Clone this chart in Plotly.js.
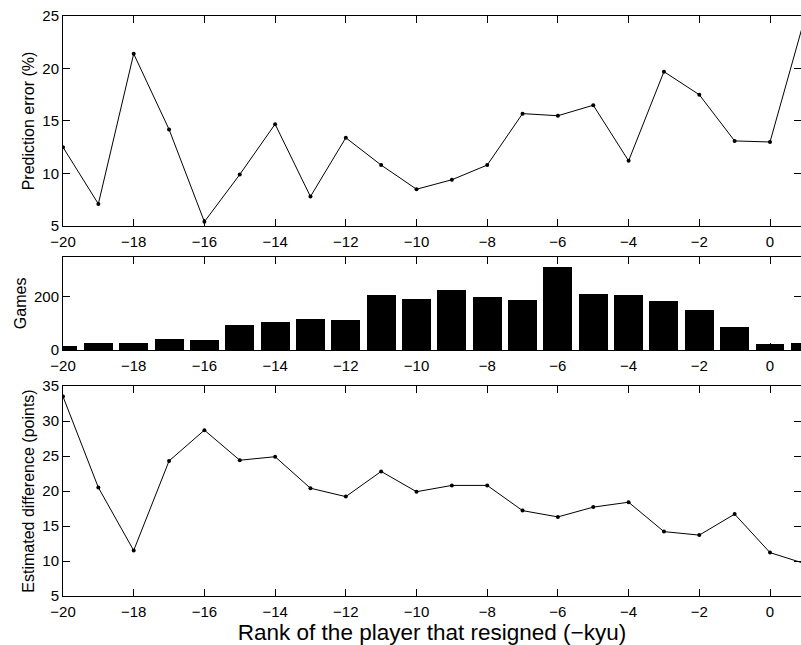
<!DOCTYPE html>
<html>
<head>
<meta charset="utf-8">
<script src="https://cdn.plot.ly/plotly-3.0.1.min.js"></script>
<style>html,body{margin:0;padding:0;background:#fff;}#chart{width:801px;height:645px;}</style>
</head>
<body>
<div id="chart"></div>
<script>
// Rank of the player that resigned (-kyu)
const ranks = [-20,-19,-18,-17,-16,-15,-14,-13,-12,-11,-10,-9,-8,-7,-6,-5,-4,-3,-2,-1,0,1];
// Prediction error (%)
const predictionError = [12.5,7.1,21.4,14.2,5.4,9.9,14.7,7.8,13.4,10.8,8.5,9.4,10.8,15.7,15.5,16.5,11.2,19.7,17.5,13.1,13.0,25.0];
// Number of games
const games = [16,28,28,43,38,92,104,116,113,206,191,225,198,187,313,209,206,184,149,86,24,28];
// Estimated difference (points)
const estDiff = [33.5,20.5,11.5,24.3,28.7,24.4,24.9,20.4,19.2,22.8,19.9,20.8,20.8,17.2,16.3,17.7,18.4,14.2,13.7,16.7,11.2,9.6];

const xTickVals = [-20,-18,-16,-14,-12,-10,-8,-6,-4,-2,0];
const topTicks = [5,10,15,20,25];
const midTicks = [0,200];
const botTicks = [5,10,15,20,25,30,35];

const FONT = 'Liberation Sans, Arial, Helvetica, sans-serif';
const xr = [-20, 0.877];

function xAxis(anchor) {
  return {
    anchor: anchor, range: xr, tickmode: 'array', tickvals: xTickVals,
    ticks: 'inside', ticklen: 7, tickcolor: '#000', showline: true, linecolor: '#000', linewidth: 1,
    mirror: 'ticks', showgrid: false, zeroline: false, ticklabelstandoff: 2,
    tickfont: {family: FONT, size: 15, color: '#000'}
  };
}
function yAxis(anchor, domain, range, ticks, title, standoff) {
  return {
    anchor: anchor, domain: domain, range: range, tickmode: 'array', tickvals: ticks,
    ticks: 'inside', ticklen: 7, tickcolor: '#000', showline: true, linecolor: '#000', linewidth: 1,
    mirror: 'ticks', showgrid: false, zeroline: false,
    tickfont: {family: FONT, size: 15, color: '#000'},
    title: {text: title, font: {family: FONT, size: 16, color: '#000'}, standoff: standoff}
  };
}

const traces = [
  {x: ranks, y: predictionError, xaxis: 'x', yaxis: 'y', type: 'scatter', mode: 'lines+markers',
   line: {color: '#000', width: 1}, marker: {color: '#000', size: 4}},
  {x: ranks, y: games, xaxis: 'x2', yaxis: 'y2', type: 'bar', width: 0.82,
   marker: {color: '#000', line: {width: 0}}},
  {x: ranks, y: estDiff, xaxis: 'x3', yaxis: 'y3', type: 'scatter', mode: 'lines+markers',
   line: {color: '#000', width: 1}, marker: {color: '#000', size: 4}}
];

const x3 = xAxis('y3');
x3.title = {text: 'Rank of the player that resigned (\u2212kyu)', font: {family: FONT, size: 22.5, color: '#000'}, standoff: 3};

const layout = {
  width: 801, height: 645,
  margin: {l: 63, r: 0, t: 16, b: 49},
  paper_bgcolor: '#fff', plot_bgcolor: '#fff',
  showlegend: false,
  xaxis: xAxis('y'),
  xaxis2: xAxis('y2'),
  xaxis3: x3,
  yaxis: yAxis('x', [0.638, 1], [5, 25], topTicks, 'Prediction error (%)', 3),
  yaxis2: yAxis('x2', [0.4241, 0.585], [0, 350], midTicks, 'Games', 3),
  yaxis3: yAxis('x3', [0, 0.362], [5, 35], botTicks, 'Estimated difference (points)', 3),
  bargap: 0
};

Plotly.newPlot('chart', traces, layout, {displayModeBar: false, staticPlot: true});
</script>
</body>
</html>
